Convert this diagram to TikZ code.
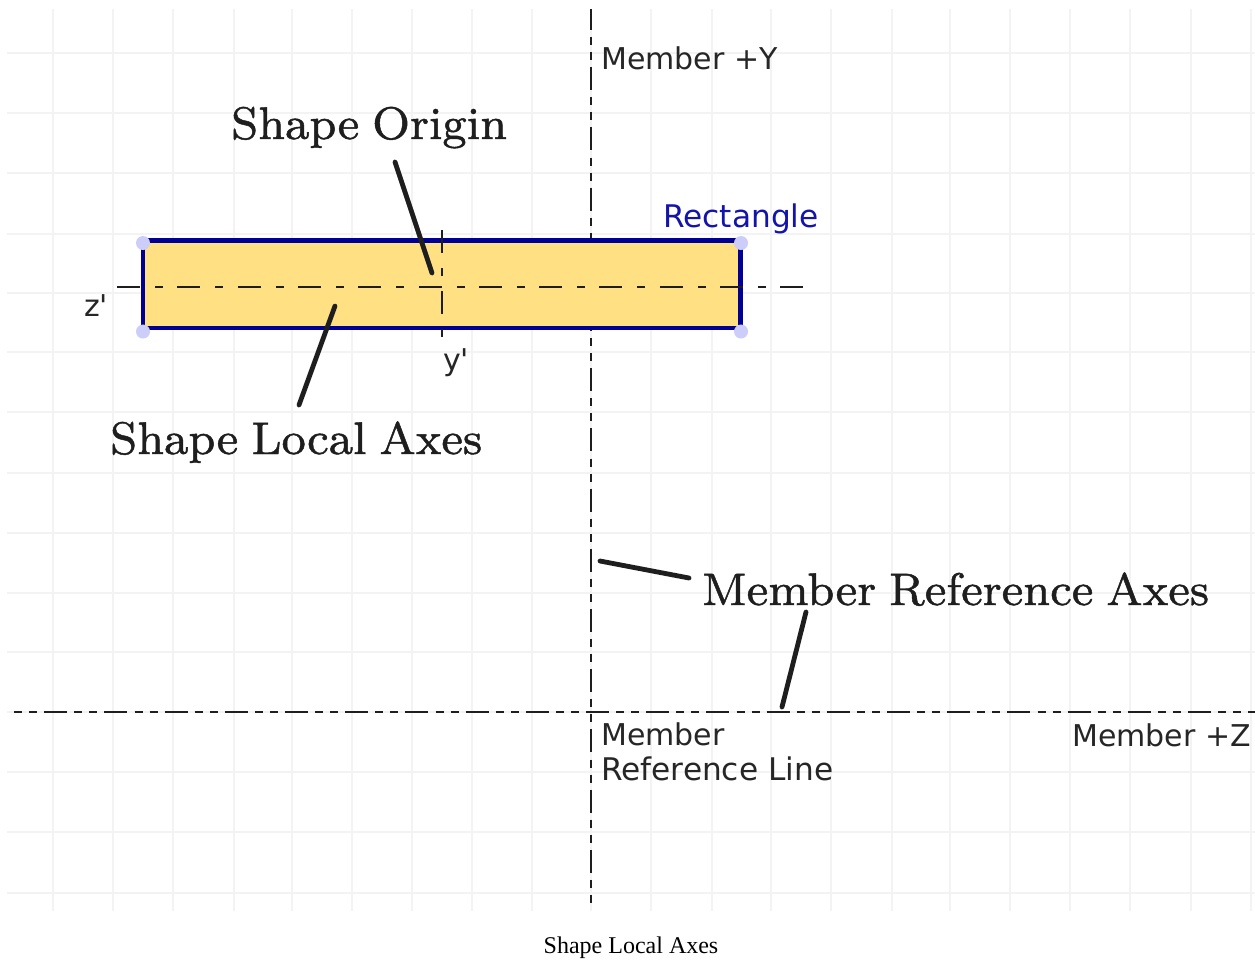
\documentclass[tikz,border=0pt]{standalone}
\usepackage{fontspec}
\newfontfamily\djvfont{DejaVu Sans}
\newfontfamily\capfont{Liberation Serif}
\newfontfamily\callfont[FakeBold=1,WordSpace=0.8]{lmroman8-regular.otf}
\definecolor{gridc}{RGB}{243,243,243}
\definecolor{fillc}{RGB}{255,224,130}
\definecolor{edgec}{RGB}{0,0,150}
\definecolor{handle}{RGB}{205,205,250}
\definecolor{bluet}{RGB}{20,20,170}
\definecolor{inkc}{RGB}{30,30,30}
\tikzset{
  x=1pt,y=-1pt,
  gridline/.style={gridc,line width=2.8pt},
  axish/.style={inkc,line width=2.4pt,dash pattern=on 23pt off 7.1pt on 8pt off 7.1pt on 8pt off 7pt},
  localz/.style={inkc,line width=2.2pt,dash pattern=on 23pt off 15pt on 8pt off 14.3pt},
  localy/.style={inkc,line width=2.2pt,dash pattern=on 23pt off 15pt on 8pt off 15pt},
  leader/.style={inkc,line width=4.8pt,line cap=round},
  handlept/.style={circle,fill=handle,inner sep=0pt,minimum size=14pt},
  small/.style={font=\djvfont\fontsize{30}{35}\selectfont,text=black!85,inner sep=0pt,anchor=base west,align=left},
  smallwide/.style={small,font=\djvfont\fontsize{31.2}{35}\selectfont},
  callout/.style={font=\callfont\fontsize{45.7}{50}\selectfont,text=inkc,inner sep=0pt,anchor=base west},
}
\begin{document}
\begin{tikzpicture}
\useasboundingbox (0,0) rectangle (1255,959);
\fill[white] (0,0) rectangle (1255,959);
\foreach \gx in {53,113,173,234,292,352,412,472,532,591,651,712,771,831,892,950,1010,1070,1130,1191,1251}
  \draw[gridline] (\gx,9) -- (\gx,911);
\foreach \gy in {53,113,173,234,293,352,412,473,533,593,652,712,772,832,893}
  \draw[gridline] (7,\gy) -- (1255,\gy);
% member axes
\coordinate (vt) at (591,9); \coordinate (vb) at (591,905);
\coordinate (hl) at (14,712); \coordinate (hr) at (1255,712);
\draw[axish,dash phase=2pt] (vt) -- (vb);
\draw[axish,dash phase=30pt] (hl) -- (hr);
% rectangle
\node[draw=edgec,fill=fillc,line width=4.6pt,minimum width=597.5pt,minimum height=87.5pt,inner sep=0pt,outer sep=0pt,anchor=north west] (rect) at (143,240.5) {};
\node[handlept,yshift=-2.5pt] (a) at (rect.north west) {};
\node[handlept,yshift=-2.5pt,xshift=.5pt] (b) at (rect.north east) {};
\node[handlept,yshift=-3.5pt] (c) at (rect.south west) {};
\node[handlept,yshift=-3.5pt,xshift=.5pt] (d) at (rect.south east) {};
% local axes
\coordinate (zl) at (117,287); \coordinate (zr) at (804,287);
\coordinate (yt) at (442,230); \coordinate (yb) at (442,337);
\draw[localz] (zl) -- (zr);
\draw[localy] (yt) -- (yb);
% labels
\node[small] (my) at (601,69) {Member +Y};
\node[small] (mz) at (1072,746) {Member +Z};
\node[small] (mr) at (601,745) {Member};
\node[smallwide] (rl) at (601,780) {Reference Line};
\node[smallwide,text=bluet] (rt) at (663,227) {Rectangle};
\node[small] (zp) at (84,316) {z'};
\node[small] (yp) at (443,370) {y'};
% callouts
\node[callout] (so) at (231,139) {Shape Origin};
\node[callout] (sl) at (110,454) {Shape Local Axes};
\node[callout] (mra) at (702,605) {Member Reference Axes};
\coordinate (so1) at (395,162); \coordinate (so2) at (432,273);
\coordinate (sl1) at (299,405); \coordinate (sl2) at (335,306);
\coordinate (ma1) at (689,578); \coordinate (ma2) at (600,561);
\coordinate (mb1) at (806,612); \coordinate (mb2) at (782,707);
\draw[leader] (so1) -- (so2);
\draw[leader] (sl1) -- (sl2);
\draw[leader] (ma1) -- (ma2);
\draw[leader] (mb1) -- (mb2);
\node[font=\capfont\fontsize{24}{28}\selectfont,text=black,inner sep=0pt,anchor=base] (cap) at (631,953) {Shape Local Axes};
\end{tikzpicture}
\end{document}
